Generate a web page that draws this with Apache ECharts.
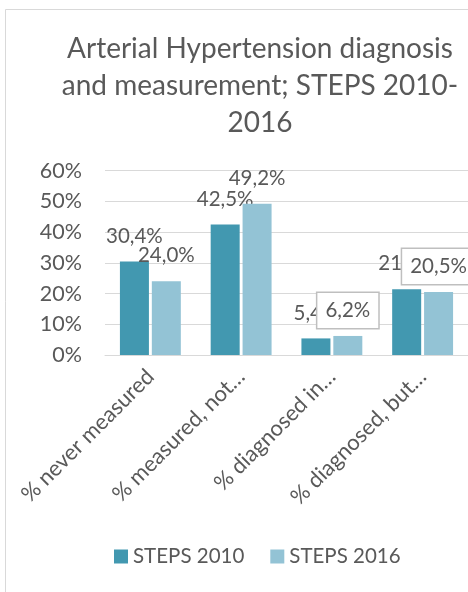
<!DOCTYPE html>
<html>
<head>
<meta charset="utf-8">
<script src="https://cdn.jsdelivr.net/npm/echarts@6/dist/echarts.min.js"></script>
<style>
  html, body { margin: 0; padding: 0; background: #ffffff; }
  #chart { width: 468px; height: 592px; }
</style>
</head>
<body>
<div id="chart"></div>
<script>
// Arterial hypertension: diagnosis and measurement, STEPS surveys 2010 and 2016
const categories = [
  '% never measured',
  '% measured, not\u2026',
  '% diagnosed in\u2026',
  '% diagnosed, but\u2026'
];
const steps2010 = [30.4, 42.5, 5.4, 21.4];
const steps2016 = [24.0, 49.2, 6.2, 20.5];
const yTicks = [0, 10, 20, 30, 40, 50, 60];
// 2016 labels that sit in a framed box
const boxedLabels2016 = [2, 3];

const FONT = 'Lato, "Open Sans", sans-serif';
const TEXT = '#595959';
const C2010 = '#4298B0';
const C2016 = '#93C3D5';

const fmt = v => v.toFixed(1).replace('.', ',') + '%';

const baseLabel = {
  show: true,
  position: 'top',
  distance: 8,
  padding: [7, 8],
  fontFamily: FONT,
  fontSize: 20.5,
  color: TEXT,
  formatter: p => fmt(p.value)
};

const data2016 = steps2016.map((v, i) => boxedLabels2016.includes(i)
  ? { value: v, label: { backgroundColor: '#ffffff', borderColor: '#BFBFBF', borderWidth: 1.5 } }
  : v);

const chart = echarts.init(document.getElementById('chart'), null, { renderer: 'canvas' });
chart.setOption({
  animation: false,
  backgroundColor: '#ffffff',
  graphic: [{
    type: 'rect',
    shape: { x: 5.5, y: 9.5, width: 700, height: 800 },
    style: { fill: 'none', stroke: '#D9D9D9', lineWidth: 1 },
    silent: true,
    z: -1
  }],
  title: {
    text: 'Arterial Hypertension diagnosis\nand measurement; STEPS 2010-\n2016',
    left: 260,
    top: 30,
    textAlign: 'center',
    padding: 0,
    textStyle: {
      fontFamily: FONT,
      fontSize: 28,
      fontWeight: 'normal',
      color: TEXT,
      lineHeight: 37
    }
  },
  legend: {
    data: ['STEPS 2010', 'STEPS 2016'],
    left: 114,
    top: 546,
    padding: 0,
    icon: 'rect',
    itemWidth: 14,
    itemHeight: 14,
    itemGap: 26,
    textStyle: { fontFamily: FONT, fontSize: 20.5, color: TEXT }
  },
  grid: { left: 105, right: -3, top: 170.7, bottom: 237, containLabel: false },
  xAxis: {
    type: 'category',
    data: categories,
    axisLine: { show: true, lineStyle: { color: '#D9D9D9', width: 1 } },
    axisTick: { show: false },
    axisLabel: {
      rotate: 45,
      interval: 0,
      margin: 18,
      fontFamily: FONT,
      fontSize: 22,
      color: TEXT
    }
  },
  yAxis: {
    type: 'value',
    min: yTicks[0],
    max: yTicks[yTicks.length - 1],
    interval: yTicks[1] - yTicks[0],
    axisLine: { show: false },
    axisTick: { show: false },
    splitLine: { lineStyle: { color: '#D9D9D9', width: 1 } },
    axisLabel: {
      margin: 23,
      fontFamily: FONT,
      fontSize: 21.5,
      color: TEXT,
      formatter: '{value}%'
    }
  },
  series: [
    {
      name: 'STEPS 2010',
      type: 'bar',
      data: steps2010,
      barWidth: 29,
      barGap: '10%',
      itemStyle: { color: C2010 },
      label: baseLabel,
      z: 2
    },
    {
      name: 'STEPS 2016',
      type: 'bar',
      data: data2016,
      barWidth: 29,
      barGap: '10%',
      itemStyle: { color: C2016 },
      label: baseLabel,
      z: 3
    }
  ]
});
</script>
</body>
</html>
